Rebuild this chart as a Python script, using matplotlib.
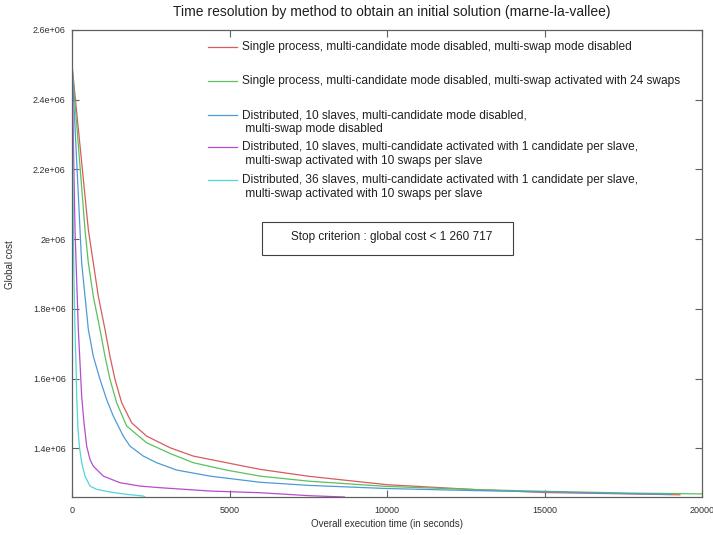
import matplotlib
matplotlib.use("Agg")
import matplotlib.pyplot as plt
from matplotlib.patches import Rectangle

plt.rcParams['font.family'] = ['Liberation Sans', 'DejaVu Sans']

title = "Time resolution by method to obtain an initial solution (marne-la-vallee)"
xlabel = "Overall execution time (in seconds)"
ylabel = "Global cost"
stop_text = "Stop criterion : global cost < 1 260 717"

labels = [
    "Single process, multi-candidate mode disabled, multi-swap mode disabled",
    "Single process, multi-candidate mode disabled, multi-swap activated with 24 swaps",
    "Distributed, 10 slaves, multi-candidate mode disabled,\n multi-swap mode disabled",
    "Distributed, 10 slaves, multi-candidate activated with 1 candidate per slave,\n multi-swap activated with 10 swaps per slave",
    "Distributed, 36 slaves, multi-candidate activated with 1 candidate per slave,\n multi-swap activated with 10 swaps per slave",
]
colors = ["#d85c5c", "#5cc05c", "#4f9ad6", "#b64ccc", "#4fd6d6"]

red_t = [0, 519, 677, 836, 1048, 1206, 1365, 1577, 1894, 2370, 3111, 3852, 4910, 5968, 7525, 10000,
         12805, 15010, 17690, 19300]
red_v = [2.50e6, 2.027e6, 1.932e6, 1.836e6, 1.741e6, 1.664e6, 1.598e6, 1.531e6, 1.4735e6, 1.4353e6,
         1.402e6, 1.378e6, 1.359e6, 1.340e6, 1.320e6, 1.296e6, 1.282e6, 1.2735e6, 1.2696e6, 1.267e6]

green_t = [0, 413, 519, 677, 889, 1048, 1206, 1418, 1736, 2370, 3111, 3852, 4910, 5968, 7525, 10000,
           12805, 15010, 17690, 20000]
green_v = [2.50e6, 2.027e6, 1.932e6, 1.836e6, 1.741e6, 1.664e6, 1.598e6, 1.531e6, 1.464e6, 1.4163e6,
           1.3856e6, 1.359e6, 1.3378e6, 1.3206e6, 1.306e6, 1.291e6, 1.282e6, 1.277e6, 1.272e6, 1.2696e6]

blue_t = [0, 254, 307, 413, 519, 677, 889, 1101, 1312, 1630, 1841, 2265, 2688, 3323, 4381, 5968, 7525,
          10000, 12805, 15010, 19000]
blue_v = [2.50e6, 2.027e6, 1.932e6, 1.836e6, 1.741e6, 1.664e6, 1.598e6, 1.540e6, 1.4925e6, 1.435e6,
          1.4066e6, 1.378e6, 1.359e6, 1.338e6, 1.3206e6, 1.303e6, 1.294e6, 1.285e6, 1.279e6, 1.2755e6, 1.268e6]

magenta_t = [0, 95, 148, 201, 254, 307, 381, 466, 571, 677, 995, 1524, 2159, 2794, 4381, 5968, 7525, 8650]
magenta_v = [2.50e6, 2.027e6, 1.884e6, 1.741e6, 1.6454e6, 1.550e6, 1.4735e6, 1.4066e6, 1.3684e6, 1.349e6,
             1.3206e6, 1.3017e6, 1.292e6, 1.2874e6, 1.2778e6, 1.273e6, 1.2645e6, 1.2607e6]

cyan_t = [0, 42, 63, 95, 127, 148, 191, 233, 307, 413, 571, 783, 1206, 1735, 2265, 2310]
cyan_v = [2.49e6, 2.027e6, 1.884e6, 1.741e6, 1.6454e6, 1.550e6, 1.4545e6, 1.4066e6, 1.359e6, 1.3206e6,
          1.292e6, 1.2827e6, 1.275e6, 1.2683e6, 1.2635e6, 1.2607e6]

series = [(red_t, red_v), (green_t, green_v), (blue_t, blue_v), (magenta_t, magenta_v), (cyan_t, cyan_v)]

xticks = [0, 5000, 10000, 15000, 20000]
yticks = [1.4e6, 1.6e6, 1.8e6, 2.0e6, 2.2e6, 2.4e6, 2.6e6]
xlim = (0, 20000)
ylim = (1260717, 2.6e6)

W, H = 713, 535
fig = plt.figure(figsize=(W / 100, H / 100), dpi=100)
ax = fig.add_axes([72 / W, 1 - 497 / H, (702 - 72) / W, (497 - 30) / H])

for (t, v), c in zip(series, colors):
    ax.plot(t, v, color=c, lw=0.9, solid_joinstyle='round')

ax.set_xlim(*xlim)
ax.set_ylim(*ylim)
ax.set_xticks(xticks)
ax.set_xticklabels([str(x) for x in xticks])
ax.set_yticks(yticks)
ax.set_yticklabels(['%g' % y for y in yticks])
ax.tick_params(direction='in', length=5, width=0.8, color='#606060', labelsize=6.5,
               top=True, right=True, labelcolor='#303030')
ax.tick_params(axis='x', pad=6.5)
ax.tick_params(axis='y', pad=4.5)
for s in ax.spines.values():
    s.set_color('#606060')
    s.set_linewidth(0.9)

fig.text(392 / W, 1 - 12 / H, title, ha='center', va='center', fontsize=10, color='#202020')
fig.text(387 / W, 1 - 524 / H, xlabel, ha='center', va='center', fontsize=7, color='#303030')
fig.text(10 / W, 1 - 265 / H, ylabel, rotation=90, ha='center', va='center', fontsize=7, color='#303030')

# key (legend) drawn like gnuplot's
key_y = [47, 81, 115, 147, 180]
for lab, c, yy in zip(labels, colors, key_y):
    yf = 1 - yy / H
    fig.add_artist(plt.Line2D([208 / W, 237 / W], [yf, yf], color=c, lw=0.9, transform=fig.transFigure))
    fig.text(242 / W, yf + 6 / H, lab, ha='left', va='top', fontsize=8.55, color='#202020',
             linespacing=1.2)

# stop criterion box
fig.add_artist(Rectangle((262 / W, 1 - 255 / H), (513 - 262) / W, (255 - 222) / H,
                         fill=False, edgecolor='#404040', lw=0.8, transform=fig.transFigure))
fig.text(291 / W, 1 - 237 / H, stop_text, ha='left', va='center', fontsize=8.5, color='#202020')

fig.savefig("out.png", dpi=100)
